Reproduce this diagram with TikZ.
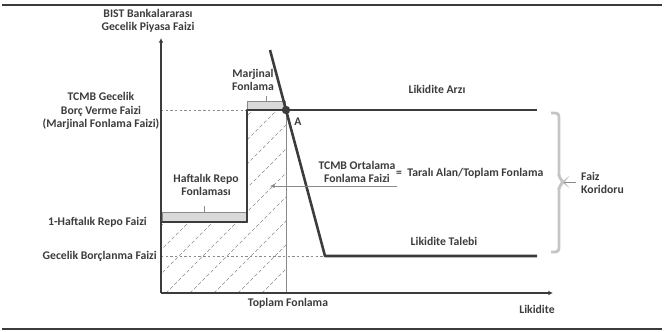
\documentclass[tikz,border=0pt]{standalone}
\usepackage{fontspec}
\setmainfont{Carlito}
\usepackage{tikz}
\usetikzlibrary{arrows.meta}
\definecolor{dark}{HTML}{3C3C3C}
\definecolor{mid}{HTML}{8A8A8A}
\definecolor{barfill}{HTML}{D9D9D9}

\begin{document}
\begin{tikzpicture}[x=0.03cm,y=-0.03cm,
    lbl/.style={font=\bfseries\fontsize{10}{11.5}\selectfont,text=dark,align=center,inner sep=0pt},
    curve/.style={dark,line width=2.2pt,line join=round},
    axis/.style={dark,line width=1.3pt,-{Latex[length=4pt,width=4pt]}},
    guide/.style={mid,line width=0.5pt,dash pattern=on 2pt off 2pt},
    hatch/.style={mid,line width=0.5pt,dash pattern=on 3pt off 2pt},
    bar/.style={fill=barfill,draw=mid,line width=0.6pt}]
  \useasboundingbox (0,0) rectangle (664,331);
  \draw[dark,line width=1.2pt] (2,5) -- (662,5);
  \draw[dark,line width=1.2pt] (2,329) -- (662,329);

  \coordinate (O) at (161,293);
  \coordinate (A) at (286,110);
  \coordinate (dtop) at (270,50);
  \coordinate (dbot) at (325,256);
  \coordinate (step) at (247,110);
  \coordinate (repo) at (247,222);

  \begin{scope}
    \clip (161,222) -- (repo) -- (step) -- (A) -- (286,293) -- (O) -- cycle;
    \foreach \c in {70,94,...,310}
      \draw[hatch] (\c,293) -- ++(200,-200);
  \end{scope}

  \draw[guide] (161,110) -- (step);
  \draw[guide] (161,256) -- (dbot);
  \draw[mid,line width=0.7pt] (A) -- (286,293);

  \filldraw[bar] (247,101) rectangle (285,110);
  \draw[mid,line width=0.6pt] (266,101) -- (266,96);
  \filldraw[bar] (162,212) rectangle (247,222);
  \draw[mid,line width=0.6pt] (204,212) -- (204,206);

  \draw[axis] (O) -- (161,38);
  \draw[axis] (O) -- (553,293);

  \draw[curve] (161,222) -- (repo) -- (step) -- (A) -- (537,110);
  \draw[curve] (dtop) -- (dbot) -- (537,256);
  \fill[dark] (A) circle (3.6pt);

  \draw[mid,line width=0.7pt,-{Latex[length=4pt,width=4pt]}] (397,186) -- (270,186);

  \draw[mid!50,line width=2.4pt,rounded corners=3pt] (551,113) -- (559,113) -- (559,178) -- (564,182) -- (559,186) -- (559,252) -- (551,252);
  \draw[mid,line width=0.6pt] (564,182) -- (576,182);

  \node[lbl] (yaxis) at (148,21) {BIST Bankalararası\\Gecelik Piyasa Faizi};
  \node[lbl] (upper) at (101,111) {TCMB Gecelik\\Borç Verme Faizi\\(Marjinal Fonlama Faizi)};
  \node[lbl,anchor=east] (weekly) at (147,222) {1-Haftalık Repo Faizi};
  \node[lbl,anchor=east] (lower) at (157,256) {Gecelik Borçlanma Faizi};
  \node[lbl] (marj) at (253,80) {Marjinal\\Fonlama};
  \node[lbl] (repolbl) at (206,185) {Haftalık Repo\\Fonlaması};
  \node[lbl] (Alabel) at (298,122) {A};
  \node[lbl] (supply) at (437,89) {Likidite Arzı};
  \node[lbl] (demand) at (444,241) {Likidite Talebi};
  \node[lbl] (avg) at (357,172) {TCMB Ortalama\\Fonlama Faizi};
  \node[lbl,anchor=west] (ratio) at (396,173) {=\ \ Taralı Alan/Toplam Fonlama};
  \node[lbl,anchor=west,align=left] (corridor) at (581,183) {Faiz\\Koridoru};
  \node[lbl] (xaxis) at (537,309) {Likidite};
  \node[lbl] (total) at (288,303) {Toplam Fonlama};
\end{tikzpicture}
\end{document}
